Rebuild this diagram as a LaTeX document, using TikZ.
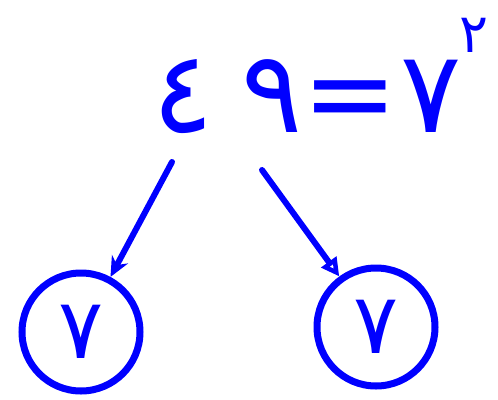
\documentclass[tikz,border=0pt]{standalone}
\usepackage{fontspec}
\newfontfamily\digitfont{DejaVu Sans}
\usetikzlibrary{arrows.meta}
\definecolor{ink}{RGB}{0,0,255}
\tikzset{
  ring/.style={circle, draw=ink, line width=7pt, minimum size=118pt, inner sep=0pt, text=ink, font=\digitfont\fontsize{84}{84}\selectfont},
  link/.style={draw=ink, line width=6pt, line cap=round},
}
\begin{document}
\begin{tikzpicture}[x=1pt,y=-1pt]
\useasboundingbox (0,0) rectangle (498,399);
\node[text=ink, font=\digitfont\fontsize{114}{114}\selectfont, inner sep=0pt, anchor=base west] (eq) at (152,132)
  {٤\hspace{28pt}٩\hspace{0pt}=\hspace{2pt}٧\hspace{-2pt}\raisebox{0.7em}{\fontsize{54}{54}\selectfont ٢}};
\node[ring] (l) at (81,332) {٧};
\node[ring] (r) at (376,327) {٧};
\coordinate (s1) at (172,162);
\coordinate (s2) at (262,170);
\draw[link, -{Stealth[length=20pt,width=18pt]}] (s1) -- (l);
\draw[link, -{Triangle[open,length=18pt,width=18pt,line width=5pt]}] (s2) -- (r);
\end{tikzpicture}
\end{document}
